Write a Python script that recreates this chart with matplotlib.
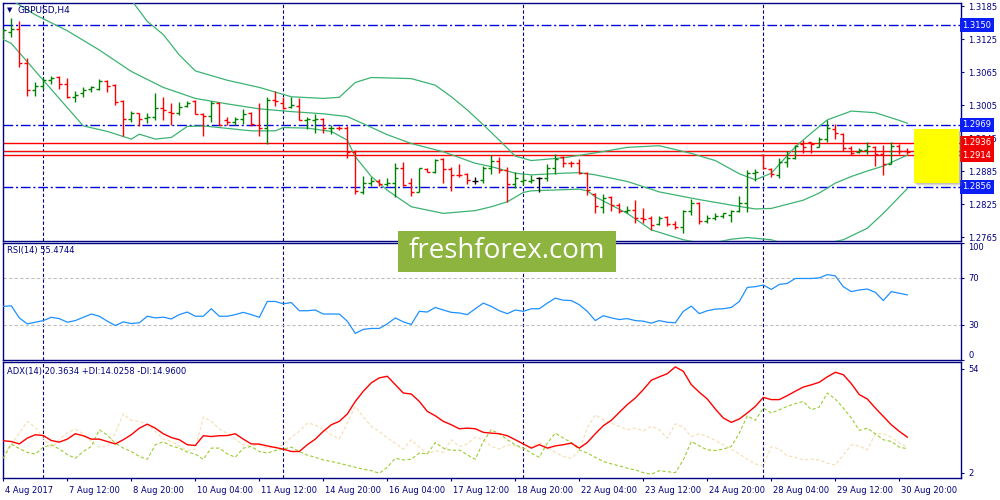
import matplotlib
matplotlib.use("Agg")
import matplotlib.pyplot as plt
import matplotlib.transforms as mtransforms
from matplotlib.collections import LineCollection
from matplotlib.patches import Rectangle

# ---- GBPUSD H4 bars ----
opens = [1.3135, 1.3138, 1.3143, 1.3081, 1.3032, 1.3040, 1.3050, 1.3056, 1.3043, 1.3020,
         1.3026, 1.3034, 1.3034, 1.3049, 1.3041, 1.3013, 1.2980, 1.2990, 1.2981, 1.2983,
         1.2999, 1.2993, 1.2990, 1.3003, 1.3013, 1.2989, 1.2985, 1.3009, 1.2977, 1.2975,
         1.2979, 1.2990, 1.2969, 1.2963, 1.3014, 1.3009, 1.3001, 1.3004, 1.2977, 1.2978,
         1.2980, 1.2963, 1.2964, 1.2964, 1.2920, 1.2847, 1.2864, 1.2866, 1.2861, 1.2863,
         1.2890, 1.2863, 1.2846, 1.2889, 1.2884, 1.2907, 1.2888, 1.2878, 1.2880, 1.2867,
         1.2869, 1.2890, 1.2904, 1.2886, 1.2861, 1.2866, 1.2867, 1.2873, 1.2873, 1.2890,
         1.2911, 1.2900, 1.2899, 1.2882, 1.2844, 1.2819, 1.2838, 1.2823, 1.2813, 1.2814,
         1.2799, 1.2799, 1.2789, 1.2802, 1.2789, 1.2784, 1.2813, 1.2827, 1.2795, 1.2799,
         1.2803, 1.2805, 1.2813, 1.2826, 1.2882, 1.2915, 1.2889, 1.2878, 1.2902, 1.2908,
         1.2934, 1.2937, 1.2929, 1.2944, 1.2961, 1.2952, 1.2926, 1.2920, 1.2923, 1.2929,
         1.2916, 1.2898, 1.2930, 1.2922]
highs = [1.3144, 1.3163, 1.3158, 1.3090, 1.3047, 1.3054, 1.3058, 1.3058, 1.3054, 1.3031,
         1.3037, 1.3040, 1.3052, 1.3050, 1.3043, 1.3014, 1.2994, 1.2991, 1.2990, 1.3026,
         1.3020, 1.3009, 1.3010, 1.3012, 1.3014, 1.2990, 1.3012, 1.3011, 1.2983, 1.2983,
         1.2997, 1.2992, 1.3008, 1.3020, 1.3030, 1.3019, 1.3020, 1.3018, 1.2983, 1.2988,
         1.2981, 1.2969, 1.2967, 1.2967, 1.2924, 1.2876, 1.2874, 1.2870, 1.2872, 1.2899,
         1.2901, 1.2873, 1.2891, 1.2891, 1.2906, 1.2908, 1.2892, 1.2898, 1.2881, 1.2874,
         1.2894, 1.2915, 1.2911, 1.2893, 1.2884, 1.2879, 1.2878, 1.2875, 1.2897, 1.2916,
         1.2912, 1.2903, 1.2906, 1.2883, 1.2845, 1.2844, 1.2840, 1.2827, 1.2821, 1.2832,
         1.2817, 1.2803, 1.2803, 1.2803, 1.2794, 1.2815, 1.2835, 1.2829, 1.2805, 1.2808,
         1.2809, 1.2815, 1.2840, 1.2887, 1.2888, 1.2916, 1.2890, 1.2908, 1.2922, 1.2932,
         1.2941, 1.2938, 1.2946, 1.2978, 1.2970, 1.2954, 1.2930, 1.2926, 1.2937, 1.2930,
         1.2932, 1.2937, 1.2934, 1.2926]
lows = [1.3126, 1.3129, 1.3075, 1.3022, 1.3022, 1.3035, 1.3043, 1.3034, 1.3017, 1.3011,
        1.3020, 1.3029, 1.3032, 1.3029, 1.3005, 1.2949, 1.2975, 1.2966, 1.2973, 1.2977,
        1.2977, 1.2968, 1.2987, 1.3001, 1.2989, 1.2949, 1.2975, 1.2968, 1.2968, 1.2969,
        1.2970, 1.2966, 1.2949, 1.2935, 1.3003, 1.2997, 1.2999, 1.2977, 1.2961, 1.2955,
        1.2955, 1.2952, 1.2960, 1.2908, 1.2844, 1.2844, 1.2858, 1.2858, 1.2857, 1.2838,
        1.2858, 1.2840, 1.2846, 1.2883, 1.2882, 1.2863, 1.2849, 1.2874, 1.2861, 1.2861,
        1.2864, 1.2879, 1.2881, 1.2829, 1.2855, 1.2860, 1.2863, 1.2846, 1.2866, 1.2880,
        1.2892, 1.2892, 1.2880, 1.2841, 1.2809, 1.2809, 1.2813, 1.2808, 1.2808, 1.2791,
        1.2791, 1.2778, 1.2787, 1.2785, 1.2779, 1.2773, 1.2805, 1.2789, 1.2791, 1.2796,
        1.2799, 1.2793, 1.2811, 1.2811, 1.2866, 1.2888, 1.2875, 1.2872, 1.2893, 1.2906,
        1.2918, 1.2918, 1.2928, 1.2938, 1.2943, 1.2922, 1.2914, 1.2917, 1.2916, 1.2895,
        1.2877, 1.2897, 1.2916, 1.2916]
closes = [1.3141, 1.3143, 1.3081, 1.3032, 1.3040, 1.3050, 1.3054, 1.3043, 1.3020, 1.3023,
          1.3032, 1.3037, 1.3049, 1.3040, 1.3011, 1.2980, 1.2990, 1.2980, 1.2983, 1.2999,
          1.2996, 1.2990, 1.3002, 1.3009, 1.2989, 1.2985, 1.3009, 1.2969, 1.2975, 1.2979,
          1.2989, 1.2970, 1.2963, 1.3014, 1.3013, 1.2999, 1.3005, 1.2978, 1.2979, 1.2980,
          1.2963, 1.2964, 1.2963, 1.2920, 1.2849, 1.2864, 1.2866, 1.2861, 1.2864, 1.2890,
          1.2860, 1.2846, 1.2890, 1.2884, 1.2905, 1.2889, 1.2878, 1.2877, 1.2869, 1.2867,
          1.2891, 1.2904, 1.2886, 1.2861, 1.2873, 1.2869, 1.2869, 1.2873, 1.2890, 1.2906,
          1.2899, 1.2899, 1.2882, 1.2850, 1.2821, 1.2836, 1.2823, 1.2813, 1.2814, 1.2799,
          1.2798, 1.2787, 1.2799, 1.2789, 1.2784, 1.2813, 1.2827, 1.2795, 1.2799, 1.2803,
          1.2808, 1.2813, 1.2827, 1.2882, 1.2884, 1.2890, 1.2880, 1.2902, 1.2908, 1.2930,
          1.2929, 1.2935, 1.2944, 1.2963, 1.2954, 1.2926, 1.2917, 1.2923, 1.2930, 1.2916,
          1.2898, 1.2930, 1.2922, 1.2920]

# Bollinger bands (20), sampled at bar indices
upper_x = [0, 4, 8, 12, 16, 18, 20, 22, 24, 28, 32, 36, 40, 42, 44, 46, 51, 54, 56, 58,
           60, 62, 64, 66, 70, 74, 78, 82, 86, 89, 92, 94, 96, 99, 101, 103, 106, 109, 112, 113]
upper_y = [1.3262, 1.3252, 1.3238, 1.3218, 1.3196, 1.3157, 1.3133, 1.3096, 1.3067, 1.3050,
           1.3037, 1.3020, 1.3017, 1.3019, 1.3046, 1.3055, 1.3053, 1.3041, 1.3020, 1.2996,
           1.2969, 1.2941, 1.2912, 1.2904, 1.2909, 1.2918, 1.2928, 1.2931, 1.2917, 1.2904,
           1.2880, 1.2869, 1.2881, 1.2929, 1.2954, 1.2978, 1.2994, 1.2991, 1.2977, 1.2972]
mid_x = [0, 2, 4, 8, 12, 16, 20, 24, 28, 32, 36, 40, 43, 45, 48, 51, 55, 59, 61, 64,
         66, 70, 72, 74, 78, 82, 87, 91, 94, 96, 100, 102, 104, 106, 108, 110, 113]
mid_y = [1.3205, 1.3187, 1.3169, 1.3140, 1.3105, 1.3066, 1.3037, 1.3017, 1.3007, 1.2998,
         1.2993, 1.2989, 1.2984, 1.2971, 1.2951, 1.2935, 1.2920, 1.2899, 1.2893, 1.2881,
         1.2878, 1.2881, 1.2882, 1.2878, 1.2866, 1.2847, 1.2833, 1.2823, 1.2816, 1.2817,
         1.2832, 1.2845, 1.2863, 1.2875, 1.2885, 1.2894, 1.2914]
lower_x = [0, 1, 5, 10, 13, 16, 17, 19, 21, 23, 25, 29, 31, 34, 35, 38, 41, 43, 44, 46,
           48, 51, 55, 59, 61, 63, 65, 66, 72, 73, 74, 78, 81, 85, 88, 91, 93, 96, 98, 102,
           105, 108, 110, 113]
lower_y = [1.3124, 1.3117, 1.3050, 1.2967, 1.2957, 1.2943, 1.2952, 1.2943, 1.2946, 1.2966,
           1.2967, 1.2961, 1.2958, 1.2958, 1.2964, 1.2963, 1.2957, 1.2941, 1.2911, 1.2875,
           1.2850, 1.2820, 1.2808, 1.2813, 1.2820, 1.2829, 1.2846, 1.2849, 1.2852, 1.2849,
           1.2838, 1.2808, 1.2778, 1.2760, 1.2752, 1.2761, 1.2764, 1.2760, 1.2751, 1.2751,
           1.2760, 1.2781, 1.2808, 1.2853]

rsi = [45.7, 46.2, 35.9, 30.8, 32.2, 33.6, 36.4, 35.3, 32.2, 33.6,
       36.4, 39.2, 37.3, 33.1, 29.4, 32.5, 31.1, 31.7, 37.3, 35.9,
       36.5, 35.0, 38.7, 40.9, 37.3, 37.3, 43.7, 37.3, 37.3, 38.7,
       40.6, 38.7, 36.4, 49.9, 49.9, 47.9, 49.0, 42.0, 42.0, 42.6,
       39.2, 39.2, 39.2, 33.1, 22.7, 26.1, 26.9, 26.9, 30.8, 35.9,
       32.5, 30.3, 41.5, 40.9, 44.8, 42.6, 40.6, 40.1, 38.7, 43.7,
       48.5, 45.7, 42.0, 39.5, 42.6, 41.5, 43.7, 43.7, 48.5, 52.7,
       51.0, 50.7, 47.1, 41.5, 33.6, 37.8, 35.9, 34.5, 35.3, 33.6,
       33.1, 31.4, 33.6, 32.2, 31.7, 41.5, 45.9, 39.5, 42.0, 43.4,
       43.7, 44.8, 49.9, 61.9, 62.5, 63.9, 60.2, 64.4, 65.3, 69.5,
       69.5, 69.5, 70.0, 72.8, 71.7, 62.5, 58.3, 59.7, 60.5, 57.7,
       50.7, 58.3, 56.9, 55.5]

adx = [18.0, 17.6, 16.4, 19.3, 21.0, 20.6, 18.1, 17.3, 18.8, 21.5,
       20.5, 18.8, 18.8, 17.6, 16.4, 18.5, 21.0, 24.3, 26.3, 24.3,
       21.5, 19.6, 18.5, 16.0, 15.6, 20.5, 20.1, 20.5, 20.6, 21.5,
       18.8, 16.4, 16.3, 15.4, 14.6, 13.8, 12.6, 12.6, 16.0, 18.8,
       22.7, 26.0, 27.7, 31.4, 37.7, 42.8, 47.0, 49.5, 50.3, 46.1,
       41.9, 41.4, 37.7, 32.7, 30.5, 27.7, 26.0, 24.0, 24.3, 24.0,
       22.2, 21.8, 21.5, 20.5, 18.5, 16.4, 14.3, 16.0, 14.3, 15.4,
       16.0, 16.8, 14.3, 17.1, 21.5, 25.5, 28.2, 32.2, 36.1, 39.4,
       43.6, 48.3, 50.0, 51.6, 55.0, 52.8, 46.1, 42.3, 38.9, 33.9,
       29.4, 27.2, 28.9, 31.9, 35.2, 39.7, 38.6, 38.6, 40.6, 42.8,
       44.9, 46.0, 47.3, 50.0, 52.3, 51.1, 46.6, 41.1, 38.9, 34.4,
       30.2, 26.0, 22.7, 19.8]
plus_di = [9.2, 16.4, 14.1, 12.1, 11.3, 14.8, 15.9, 13.9, 11.1, 9.2,
           12.6, 15.1, 23.5, 20.8, 16.8, 14.3, 12.6, 10.1, 8.7, 15.9,
           17.5, 15.4, 14.3, 12.3, 11.3, 8.7, 14.3, 14.3, 11.4, 9.7,
           14.3, 15.1, 12.6, 11.8, 13.1, 13.8, 14.8, 12.6, 10.8, 9.7,
           8.4, 7.6, 6.7, 5.7, 4.7, 3.7, 3.0, 1.7, 4.7, 9.2,
           8.4, 8.7, 11.8, 11.4, 17.1, 14.3, 13.1, 13.4, 10.9, 8.7,
           17.6, 23.5, 21.5, 18.5, 15.9, 14.3, 11.8, 9.7, 16.8, 21.8,
           19.3, 17.1, 13.4, 11.8, 9.7, 7.6, 6.4, 5.4, 4.2, 3.4,
           2.0, 1.2, 3.0, 2.5, 2.0, 8.4, 17.6, 15.4, 13.4, 13.1,
           13.8, 15.1, 21.8, 30.5, 28.2, 34.4, 31.9, 33.5, 35.2, 36.6,
           37.7, 33.5, 34.9, 41.9, 38.9, 34.4, 29.4, 23.2, 24.3, 21.5,
           18.5, 17.6, 14.8, 14.0]
minus_di = [11.8, 15.9, 21.8, 27.7, 24.7, 19.3, 14.8, 18.5, 22.1, 23.8,
            21.5, 17.6, 14.8, 15.1, 21.8, 31.5, 28.2, 27.7, 26.0, 22.7,
            18.8, 17.6, 15.4, 13.1, 13.8, 29.9, 27.7, 23.8, 21.8, 18.8,
            15.9, 15.4, 15.9, 14.3, 14.8, 15.9, 19.8, 22.7, 26.8, 26.0,
            23.5, 21.0, 18.8, 26.8, 35.2, 29.9, 25.2, 22.7, 19.3, 16.8,
            13.8, 18.5, 14.8, 11.3, 13.1, 12.1, 18.5, 15.1, 16.4, 19.8,
            18.5, 15.1, 13.8, 15.9, 15.4, 13.8, 15.1, 17.1, 14.8, 12.1,
            10.1, 9.2, 13.1, 24.3, 31.0, 28.5, 26.8, 25.2, 23.5, 24.3,
            23.0, 25.2, 23.5, 19.3, 26.5, 24.8, 20.1, 21.5, 20.1, 18.1,
            15.9, 13.8, 11.4, 8.7, 6.4, 5.4, 15.1, 13.8, 10.4, 9.7,
            8.4, 8.7, 8.4, 6.7, 5.9, 10.9, 15.9, 15.4, 13.4, 21.5,
            21.5, 19.8, 16.8, 15.0]

date_labels = ['4 Aug 2017', '7 Aug 12:00', '8 Aug 20:00', '10 Aug 04:00', '11 Aug 12:00',
               '14 Aug 20:00', '16 Aug 04:00', '17 Aug 12:00', '18 Aug 20:00', '22 Aug 04:00',
               '23 Aug 12:00', '24 Aug 20:00', '28 Aug 04:00', '29 Aug 12:00', '30 Aug 20:00']
date_bars = list(range(0, 114, 8))
week_starts = [5, 35, 65, 95]

price_ticks = [1.3185, 1.3125, 1.3065, 1.3005, 1.2945, 1.2885, 1.2825, 1.2765]
blue_levels = [1.3150, 1.2969, 1.2856]
red_levels = [1.2936, 1.2914]
bid_price = 1.2921
zone_low, zone_high = 1.2863, 1.2961

rsi_last, adx_last, pdi_last, mdi_last = 55.4744, 20.3634, 14.0258, 14.9600

NAVY = '#000080'
UP, DOWN = '#008000', '#ff0000'
BAND = '#3cb371'
LEVEL = '#0000e0'

plt.rcParams['font.family'] = ['DejaVu Sans']

fig = plt.figure(figsize=(10, 5), dpi=100)
ax = fig.add_axes([0.0027, 0.5186, 0.958, 0.476])
ax_rsi = fig.add_axes([0.0027, 0.28, 0.958, 0.2346], sharex=ax)
ax_adx = fig.add_axes([0.0027, 0.0434, 0.958, 0.232], sharex=ax)

n = len(closes)
ax.set_xlim(-0.075, 119.675)

for a in (ax, ax_rsi, ax_adx):
    for s in a.spines.values():
        s.set_color(NAVY)
        s.set_linewidth(1.0)
    a.yaxis.tick_right()
    a.tick_params(axis='y', direction='out', length=2.5, width=0.8, color=NAVY,
                  labelcolor=NAVY, labelsize=6, pad=3)
    for w in week_starts:
        a.axvline(w, color=NAVY, lw=0.8, ls=(0, (3, 2)), zorder=1)
ax.tick_params(axis='x', bottom=False, labelbottom=False)
ax_rsi.tick_params(axis='x', bottom=False, labelbottom=False)

# ---- price panel ----
segs, cols = [], []
for i in range(n):
    if closes[i] > opens[i]:
        c = UP
    elif closes[i] < opens[i]:
        c = DOWN
    else:
        c = 'black'
    segs.append([(i, lows[i]), (i, highs[i])])
    segs.append([(i - 0.375, opens[i]), (i, opens[i])])
    segs.append([(i, closes[i]), (i + 0.375, closes[i])])
    cols += [c, c, c]
ax.add_collection(LineCollection(segs, colors=cols, linewidths=1.0, zorder=4))

for bx, by in ((upper_x, upper_y), (mid_x, mid_y), (lower_x, lower_y)):
    ax.plot(bx, by, color=BAND, lw=0.9, zorder=3)

ax.set_ylim(1.27583, 1.31910)
ax.set_yticks(price_ticks)
ax.set_yticklabels([f'{p:.4f}' for p in price_ticks])

for lv in blue_levels:
    ax.axhline(lv, color=LEVEL, lw=1.0, ls=(0, (7, 2, 1.5, 2)), zorder=2)
    ax.text(1.0017, lv, f'{lv:.4f}', transform=ax.get_yaxis_transform(), ha='left',
            va='center', fontsize=6, color='white', clip_on=False, zorder=6,
            bbox=dict(boxstyle='square,pad=0.3', fc='#0a1ef5', ec='none'))
for lv in red_levels:
    ax.axhline(lv, color='red', lw=1.0, zorder=2)
    ax.text(1.0017, lv, f'{lv:.4f}', transform=ax.get_yaxis_transform(), ha='left',
            va='center', fontsize=6, color='white', clip_on=False, zorder=6,
            bbox=dict(boxstyle='square,pad=0.3', fc='#f00000', ec='none'))
ax.axhline(bid_price, color='red', lw=1.0, zorder=2)
ax.axhline(bid_price - 0.0002, color='#d8c8c8', lw=0.8, zorder=2)

# yellow forecast zone with a soft shadow
tr = ax.get_yaxis_transform()
shift = mtransforms.ScaledTranslation(2.5 / 100, -2.5 / 100, fig.dpi_scale_trans)
for k, al in enumerate((0.25, 0.2, 0.15)):
    sh = mtransforms.ScaledTranslation((1 + k) / 100, -(1 + k) / 100, fig.dpi_scale_trans)
    ax.add_patch(Rectangle((0.9513, zone_low), 0.047, zone_high - zone_low, transform=tr + sh,
                           fc='#808080', ec='none', alpha=al, zorder=7, clip_on=False))
ax.add_patch(Rectangle((0.9513, zone_low), 0.047, zone_high - zone_low, transform=tr,
                       fc='#ffff00', ec='none', zorder=8, clip_on=False))

# ---- RSI panel ----
ax_rsi.plot(range(n), rsi, color='#1e90ff', lw=0.9, zorder=3)
for lv in (70, 30):
    ax_rsi.axhline(lv, color='#c0c0c0', lw=0.8, ls=(0, (3, 2)), zorder=2)
ax_rsi.set_ylim(0, 100)
ax_rsi.set_yticks([0, 30, 70, 100])
ax_rsi.set_yticklabels(['0', '30', '70', '100'])
rl = ax_rsi.get_yticklabels()
rl[0].set_va('bottom')
rl[-1].set_va('top')
ax_rsi.text(0.005, 0.93, f'RSI(14) {rsi_last:.4f}', transform=ax_rsi.transAxes,
            fontsize=6, color=NAVY, va='center')

# ---- ADX panel ----
ax_adx.plot(range(n), minus_di, color='#f5deb3', lw=0.8, ls=(0, (3, 2)), zorder=2)
ax_adx.plot(range(n), plus_di, color='#9acd32', lw=0.8, ls=(0, (3, 2)), zorder=3)
ax_adx.plot(range(n), adx, color='#ff0000', lw=1.0, zorder=4)
ax_adx.set_ylim(-0.83, 57.3)
ax_adx.set_yticks([2, 54])
ax_adx.set_yticklabels(['2', '54'])
ax_adx.text(0.005, 0.92, f'ADX(14) {adx_last:.4f} +DI:{pdi_last:.4f} -DI:{mdi_last:.4f}',
            transform=ax_adx.transAxes, fontsize=6, color=NAVY, va='center')

ax_adx.set_xticks(date_bars)
ax_adx.set_xticklabels(date_labels)
ax_adx.tick_params(axis='x', direction='out', length=2.5, width=0.8, color=NAVY,
                   labelcolor=NAVY, labelsize=6, pad=3)
off = mtransforms.ScaledTranslation(2 / 100, 0, fig.dpi_scale_trans)
for lab in ax_adx.get_xticklabels():
    lab.set_horizontalalignment('left')
    lab.set_transform(lab.get_transform() + off)

# ---- title and watermark ----
fig.text(0.007, 0.979, '\u25bc', fontsize=5, color=NAVY, va='center')
fig.text(0.018, 0.979, 'GBPUSD,H4', fontsize=6.5, color=NAVY, va='center')

fig.patches.append(Rectangle((0.398, 1 - 272 / 500), 0.218, 41 / 500, transform=fig.transFigure,
                             fc='#8db43f', ec='none', zorder=20))
fig.text(0.507, 1 - 251 / 500, 'freshforex.com', fontsize=20, family='Open Sans',
         color='white', ha='center', va='center', zorder=21)

fig.savefig('out.png', dpi=100)
